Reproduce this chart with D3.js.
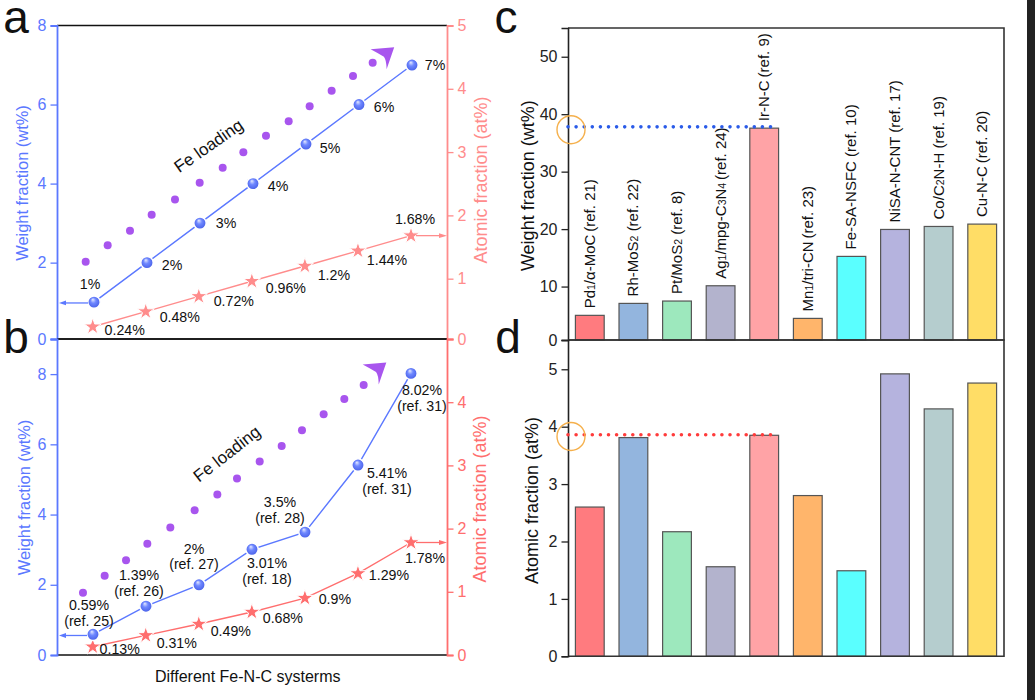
<!DOCTYPE html>
<html>
<head>
<meta charset="utf-8">
<script src="https://cdn.jsdelivr.net/npm/d3@7"></script>
<style>
  body { margin: 0; background: #fff; }
  text { font-family: "Liberation Sans", Arial, sans-serif; fill: #111; }
</style>
</head>
<body>
<svg id="chart" width="1035" height="700"></svg>
<script>
// panel a
const loadIdx = [0, 1, 2, 3, 4, 5, 6];
const aWeight = [1, 2, 3, 4, 5, 6, 7];
const aAtomic = [0.24, 0.48, 0.72, 0.96, 1.2, 1.44, 1.68];
const aWeightLabels = ["1%", "2%", "3%", "4%", "5%", "6%", "7%"];
const aAtomicLabels = ["0.24%", "0.48%", "0.72%", "0.96%", "1.2%", "1.44%", "1.68%"];
const aDotIdx = [-0.157, 0.258, 0.679, 1.088, 1.528, 1.994, 2.428, 2.818, 3.245, 3.673, 4.069, 4.484, 4.887, 5.258];
const aDotVal = [2.02, 2.44, 2.81, 3.21, 3.6, 4.02, 4.4, 4.79, 5.21, 5.58, 5.96, 6.35, 6.72, 7.06];

// panel b
const bWeight = [0.59, 1.39, 2, 3.01, 3.5, 5.41, 8.02];
const bAtomic = [0.13, 0.31, 0.49, 0.68, 0.9, 1.29, 1.78];
const bWeightLabels = ["0.59%", "1.39%", "2%", "3.01%", "3.5%", "5.41%", "8.02%"];
const bWeightRefs = ["(ref. 25)", "(ref. 26)", "(ref. 27)", "(ref. 18)", "(ref. 28)", "(ref. 31)", "(ref. 31)"];
const bAtomicLabels = ["0.13%", "0.31%", "0.49%", "0.68%", "0.9%", "1.29%", "1.78%"];
const bDotIdx = [-0.189, 0.22, 0.623, 1.025, 1.459, 1.918, 2.346, 2.717, 3.145, 3.56, 3.943, 4.352, 4.742, 5.107];
const bDotVal = [1.77, 2.26, 2.7, 3.17, 3.63, 4.12, 4.57, 5.03, 5.51, 5.95, 6.4, 6.86, 7.29, 7.69];

// panels c, d  (~x~ = small subscript)
const systems = ["Pd~1~/α-MoC~ ~(ref. 21)", "Rh-MoS~2~ (ref. 22)", "Pt/MoS~2~ (ref. 8)", "Ag~1~/mpg-C~3~N~4~~ ~(ref. 24)",
  "Ir-N-C~ ~(ref. 9)", "Mn~1~/tri-CN~ ~(ref. 23)", "Fe-SA-NSFC (ref. 10)", "NiSA-N-CNT (ref. 17)", "Co/C~2~N-H (ref. 19)", "Cu-N-C~ ~(ref. 20)"];
const cValues = [4.99, 7.07, 7.48, 10.14, 37.57, 4.46, 15.25, 19.94, 20.46, 20.87];
const dValues = [2.6, 3.81, 2.17, 1.56, 3.85, 2.8, 1.49, 4.92, 4.31, 4.76];
const barColors = ["#ff7b7f", "#93b5de", "#9de8bd", "#b3b3cd", "#ffa3a6", "#ffb56b", "#5affff", "#b5b3de", "#b5cdce", "#ffdd66"];

// label nudges, px from the marker
const aWeightOff = [[-4, -18], [25, 2], [26, 0], [25, 2], [24, 4], [25, 2], [23, 0]];
const aAtomicOff = [[32, 3], [34, 5], [35, 5], [34, 7], [29, 9], [29, 9], [4, -17]];
const bWeightOff = [[-4, -29], [-7, -31], [-5, -36], [15, 14], [-25, -30], [29, 8], [11, 17]];
const bAtomicOff = [[27, 2], [31, 8], [32, 7], [31, 6], [30, 1], [31, 2], [14, 15]];

const BLUE = "#5b78ff", PINK = "#ff8c8c", RED = "#ff6e6e", PURPLE = "#a855ee", ORANGE = "#f5b04c";

const svg = d3.select("#chart");
const defs = svg.append("defs");
const grad = defs.append("radialGradient").attr("id", "ball").attr("cx", "0.5").attr("cy", "0.5").attr("r", "0.55").attr("fx", "0.4").attr("fy", "0.28");
grad.append("stop").attr("offset", "0").attr("stop-color", "#e6eaff");
grad.append("stop").attr("offset", "0.4").attr("stop-color", "#6f88ff");
grad.append("stop").attr("offset", "1").attr("stop-color", "#4259e4");

function addText(x, y, str, size, color, rot) {
  return svg.append("text")
    .attr("transform", `translate(${x},${y})` + (rot ? ` rotate(${rot})` : ""))
    .attr("text-anchor", "middle").attr("dominant-baseline", "central")
    .style("font-size", size + "px").style("fill", color || "#111").text(str);
}

// draw an axis with major and minor ticks
function vAxis(scale, x, majors, minors, color, side, fontSize, lineW) {
  const gen = side === "left" ? d3.axisLeft : d3.axisRight;
  const g = svg.append("g").attr("transform", `translate(${x},0)`);
  g.call(gen(scale).tickValues(minors).tickSize(3.5).tickFormat(""));
  g.call(gen(scale).tickValues(majors).tickSize(6.5).tickPadding(4).tickFormat(d3.format("d")));
  g.selectAll("line").attr("stroke", color).attr("stroke-width", 1.3);
  g.selectAll(".domain").attr("stroke", color).attr("stroke-width", lineW);
  g.selectAll("text").style("font-size", fontSize + "px").style("fill", color);
}

function linePanel(cfg) {
  const x = d3.scaleLinear().domain([0, 6]).range(cfg.xRange);
  const xStar = d3.scaleLinear().domain([0, 6]).range(cfg.xStarRange);
  const line = d3.line();

  // frame lines
  svg.append("path").attr("d", d3.line()([[cfg.left, cfg.y0], [cfg.right, cfg.y0]])).attr("stroke", "#111").attr("stroke-width", 1.5);
  svg.append("path").attr("d", d3.line()([[cfg.left, cfg.y1], [cfg.right, cfg.y1]])).attr("stroke", "#111").attr("stroke-width", 1.5);

  vAxis(cfg.yL, cfg.left, cfg.leftMajor, cfg.leftMinor, BLUE, "left", 16, 1.8);
  vAxis(cfg.yR, cfg.right, cfg.rightMajor, cfg.rightMinor, cfg.red, "right", 16, 1.8);

  // purple dots
  svg.append("g").selectAll("circle").data(cfg.dotIdx).join("circle")
    .attr("cx", d => x(d)).attr("cy", (d, i) => cfg.yL(cfg.dotVal[i])).attr("r", 4).attr("fill", PURPLE);
  const ax = x(cfg.arrowIdx), ay = cfg.yL(cfg.arrowVal);
  svg.append("path").attr("transform", `translate(${ax},${ay})`)
    .attr("d", "M-13.3,-7.4L10.3,-9.4L2.7,12.6Q2.5,3 0,0Q-6,-3.5 -13.3,-7.4Z").attr("fill", PURPLE);

  // atomic series
  svg.append("path").attr("d", line(loadIdx.map(i => [xStar(i), cfg.yR(cfg.atomic[i])])))
    .attr("fill", "none").attr("stroke", cfg.red).attr("stroke-width", 1.4);
  svg.append("g").selectAll("path").data(loadIdx).join("path")
    .attr("transform", i => `translate(${xStar(i)},${cfg.yR(cfg.atomic[i])})`)
    .attr("d", d3.symbol(d3.symbolStar, 90)).attr("fill", cfg.red).attr("stroke", "#fff").attr("stroke-width", 1);

  // weight series
  svg.append("path").attr("d", line(loadIdx.map(i => [x(i), cfg.yL(cfg.weight[i])])))
    .attr("fill", "none").attr("stroke", BLUE).attr("stroke-width", 1.4);
  svg.append("g").selectAll("circle").data(loadIdx).join("circle")
    .attr("cx", i => x(i)).attr("cy", i => cfg.yL(cfg.weight[i])).attr("r", 6.2)
    .attr("fill", "url(#ball)").attr("stroke", "#fff").attr("stroke-width", 1.5);

  // little arrows to the axes
  const wy = cfg.yL(cfg.weight[0]) + cfg.arrowDrop, ry = cfg.yR(cfg.atomic[6]);
  svg.append("path").attr("d", line([[x(0) - 6, wy], [cfg.left + 6, wy]])).attr("stroke", BLUE).attr("stroke-width", 1.3);
  svg.append("path").attr("d", line([[cfg.left + 2, wy], [cfg.left + 9, wy - 2.4], [cfg.left + 9, wy + 2.4]])).attr("fill", BLUE);
  svg.append("path").attr("d", line([[xStar(6) + 5, ry], [cfg.right - 4, ry]])).attr("stroke", cfg.red).attr("stroke-width", 1.3);
  svg.append("path").attr("d", line([[cfg.right, ry], [cfg.right - 8, ry - 2.4], [cfg.right - 8, ry + 2.4]])).attr("fill", cfg.red);

  // labels
  loadIdx.forEach(i => {
    const [dx, dy] = cfg.weightOff[i];
    addText(x(i) + dx, cfg.yL(cfg.weight[i]) + dy, cfg.weightLabels[i], 14.2);
    if (cfg.refs) addText(x(i) + dx, cfg.yL(cfg.weight[i]) + dy + 15.5, cfg.refs[i], 14.2);
    const [ex, ey] = cfg.atomicOff[i];
    addText(xStar(i) + ex, cfg.yR(cfg.atomic[i]) + ey, cfg.atomicLabels[i], 14.2);
  });
}

// panel a: 0 ticks sit on the frame, the scales stop just short of true zero
linePanel({
  left: 57, right: 447, y0: 339, y1: 25.5, red: PINK,
  xRange: [94, 412], xStarRange: [92.7, 411],
  yL: d3.scaleLinear().domain([0.068, 8]).range([339, 25.5]).clamp(true),
  yR: d3.scaleLinear().domain([0.047, 5]).range([339, 25.5]).clamp(true),
  leftMajor: [0, 2, 4, 6, 8], leftMinor: [1, 3, 5, 7],
  rightMajor: [0, 1, 2, 3, 4, 5], rightMinor: [0.5, 1.5, 2.5, 3.5, 4.5],
  weight: aWeight, atomic: aAtomic, weightLabels: aWeightLabels, atomicLabels: aAtomicLabels,
  weightOff: aWeightOff, atomicOff: aAtomicOff, dotIdx: aDotIdx, dotVal: aDotVal,
  arrowIdx: 5.47, arrowVal: 7.21, arrowDrop: 0.8
});

linePanel({
  left: 57, right: 447, y0: 655, y1: 339, red: RED,
  xRange: [93, 411], xStarRange: [92.7, 411],
  yL: d3.scaleLinear().domain([0, 9]).range([655, 339]),
  yR: d3.scaleLinear().domain([0, 5]).range([655, 339]),
  leftMajor: [0, 2, 4, 6, 8], leftMinor: [1, 3, 5, 7],
  rightMajor: [0, 1, 2, 3, 4], rightMinor: [0.5, 1.5, 2.5, 3.5, 4.5],
  weight: bWeight, atomic: bAtomic, weightLabels: bWeightLabels, refs: bWeightRefs, atomicLabels: bAtomicLabels,
  weightOff: bWeightOff, atomicOff: bAtomicOff, dotIdx: bDotIdx, dotVal: bDotVal,
  arrowIdx: 5.34, arrowVal: 8.06, arrowDrop: 1.2
});

addText(208.7, 146, "Fe loading", 17, "#111", -35);
addText(227, 454, "Fe loading", 17, "#111", -38);
addText(22, 183, "Weight fraction (wt%)", 16.4, BLUE, -90);
addText(24, 497.5, "Weight fraction (wt%)", 16.4, BLUE, -90);
addText(481, 180, "Atomic fraction (at%)", 18, PINK, -90);
addText(480, 499, "Atomic fraction (at%)", 18, RED, -90);
addText(247.7, 676, "Different Fe-N-C systerms", 16, "#111");

// bar panels
const xBand = d3.scaleBand().domain(d3.range(systems.length)).range([568, 1004]).paddingInner(0.34).paddingOuter(0.17);

function barPanel(values, y, y0, y1, majors, minors) {
  svg.append("g").selectAll("rect").data(values).join("rect")
    .attr("x", (d, i) => xBand(i)).attr("width", xBand.bandwidth())
    .attr("y", d => y(d)).attr("height", d => y0 - y(d))
    .attr("fill", (d, i) => barColors[i]).attr("stroke", "#555").attr("stroke-width", 1.2);
  svg.append("path").attr("d", d3.line()([[568, y1], [1004, y1], [1004, y0], [568, y0]]))
    .attr("fill", "none").attr("stroke", "#333").attr("stroke-width", 1.6);
  vAxis(y, 568, majors, minors, "#222", "left", 16, 1.6);
}

const yC = d3.scaleLinear().domain([0.7, 55]).range([340, 28]).clamp(true);
const yD = d3.scaleLinear().domain([0, 5.51]).range([656.3, 340]);
barPanel(cValues, yC, 340, 28, [0, 10, 20, 30, 40, 50], [5, 15, 25, 35, 45]);
barPanel(dValues, yD, 656.3, 340, [0, 1, 2, 3, 4, 5], [0.5, 1.5, 2.5, 3.5, 4.5]);

// rotated names over the bars in c, on the alphabetic baseline so subscripts sit low
systems.forEach((name, i) => {
  const t = svg.append("text")
    .attr("transform", `translate(${xBand(i) + xBand.bandwidth() / 2 + 5},${yC(cValues[i]) - 7}) rotate(-90)`)
    .style("font-size", "15px");
  name.split("~").forEach((part, k) => {
    t.append("tspan").style("font-size", k % 2 ? "10.5px" : "15px").text(part);
  });
});

// dotted guides and circles
function guide(yPos, color, cy) {
  svg.append("path").attr("d", d3.line()([[568, yPos], [778, yPos]]))
    .attr("stroke", color).attr("stroke-width", 3.6).attr("stroke-dasharray", "0 8.1").attr("stroke-linecap", "round");
  svg.append("circle").attr("cx", 571).attr("cy", cy).attr("r", 14).attr("fill", "none").attr("stroke", ORANGE).attr("stroke-width", 1.4);
}
guide(yC(37.8), "#2a5be8", yC(37.3));
guide(yD(3.86), "#ff3b3b", yD(3.83));

addText(527.7, 185.7, "Weight fraction (wt%)", 18, "#111", -90);
addText(531.7, 500.5, "Atomic fraction (at%)", 18, "#111", -90);

// panel letters
[["a", 16, 17], ["b", 16, 337], ["c", 506, 17], ["d", 508, 337]].forEach(l => addText(l[1], l[2], l[0], 46));

// dark strip along the right edge of the screenshot
svg.append("rect").attr("x", 1027).attr("y", 0).attr("width", 8).attr("height", 700).attr("fill", "#222");
</script>
</body>
</html>
